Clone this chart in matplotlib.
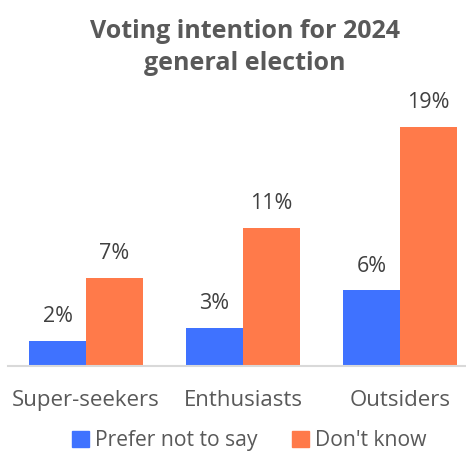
import numpy as np
import matplotlib
matplotlib.use("Agg")
import matplotlib.pyplot as plt
from matplotlib.patches import Patch

categories = ["Super-seekers", "Enthusiasts", "Outsiders"]
prefer_not = [2, 3, 6]
dont_know = [7, 11, 19]
series_names = ["Prefer not to say", "Don't know"]

BLUE = "#3F72FF"
ORANGE = "#FF7A4A"
GREY = "#595959"

plt.rcParams['font.family'] = ['Open Sans', 'DejaVu Sans']

fig = plt.figure(figsize=(4.66, 4.59), dpi=100)
ax = fig.add_axes([8 / 466, 93 / 459, 458 / 466, 277 / 459])

x = np.arange(len(categories))
w = 57 / 157
b1 = ax.bar(x - w / 2, prefer_not, w, color=BLUE)
b2 = ax.bar(x + w / 2, dont_know, w, color=ORANGE)

for bars, vals in ((b1, prefer_not), (b2, dont_know)):
    for r, v in zip(bars, vals):
        ax.text(r.get_x() + r.get_width() / 2, v + 1.1, f"{v}%",
                ha="center", va="bottom", fontsize=15.5, color="#404040")

ax.set_xlim(-0.497, 2.42)
ax.set_ylim(0, 22)
ax.set_yticks([])
ax.set_xticks(x)
ax.set_xticklabels(categories, fontsize=16, color=GREY)
ax.tick_params(axis="x", length=0, pad=17)
for s in ("top", "right", "left"):
    ax.spines[s].set_visible(False)
ax.spines["bottom"].set_color("#D9D9D9")
ax.spines["bottom"].set_linewidth(1.5)

fig.text(0.525, 0.896, "Voting intention for 2024\ngeneral election",
         ha="center", va="center", fontsize=18, fontweight="bold",
         color=GREY, linespacing=1.35)

handles = [Patch(color=BLUE), Patch(color=ORANGE)]
fig.legend(handles, series_names, loc="lower center", bbox_to_anchor=(0.535, -0.025),
           ncol=2, frameon=False, fontsize=15.2, labelcolor=GREY,
           handlelength=0.8, handleheight=0.8, handletextpad=0.3,
           columnspacing=1.6)

fig.savefig("out.png", dpi=100)
